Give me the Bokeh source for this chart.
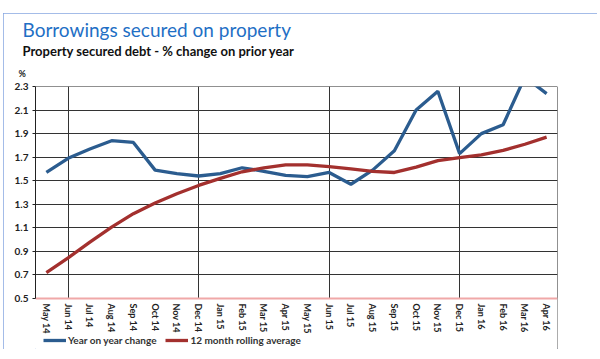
from bokeh.plotting import figure
from bokeh.models import (Range1d, FixedTicker, Title, Legend, LegendItem, ColumnDataSource,
                          BoxAnnotation, Span)
from bokeh.embed import file_html
from bokeh.resources import INLINE

months = ["May 14", "Jun 14", "Jul 14", "Aug 14", "Sep 14", "Oct 14", "Nov 14", "Dec 14",
          "Jan 15", "Feb 15", "Mar 15", "Apr 15", "May 15", "Jun 15", "Jul 15", "Aug 15",
          "Sep 15", "Oct 15", "Nov 15", "Dec 15", "Jan 16", "Feb 16", "Mar 16", "Apr 16"]
yoy_change = [1.57, 1.69, 1.77, 1.84, 1.825, 1.59, 1.56, 1.54, 1.56, 1.61, 1.58, 1.545,
              1.535, 1.57, 1.47, 1.59, 1.755, 2.10, 2.26, 1.73, 1.90, 1.975, 2.38, 2.24]
rolling_avg = [0.72, 0.845, 0.978, 1.106, 1.22, 1.31, 1.39, 1.46, 1.52, 1.576, 1.61, 1.635,
               1.635, 1.62, 1.60, 1.58, 1.57, 1.615, 1.67, 1.697, 1.72, 1.757, 1.81, 1.87]
y_ticks = [0.5, 0.7, 0.9, 1.1, 1.3, 1.5, 1.7, 1.9, 2.1, 2.3]
grid_months = ["Jun 14", "Dec 14", "Jun 15", "Dec 15"]

xs = list(range(len(months)))
src = ColumnDataSource(dict(x=xs, yoy=yoy_change, avg=rolling_avg))

FONT = "Lato"
Y_MIN, Y_MAX = y_ticks[0], y_ticks[-1]
FRAME_H = 263          # frame reaches down to the legend row
PLOT_H = 212           # height of the 0.5..2.3 band
y_lo = Y_MAX - (Y_MAX - Y_MIN) * FRAME_H / PLOT_H
X_LO, X_HI = -0.5, len(months) - 0.5

p = figure(output_backend="svg", toolbar_location=None,
           x_range=Range1d(X_LO, X_HI), y_range=Range1d(y_lo, Y_MAX),
           frame_width=522, frame_height=FRAME_H,
           min_border_left=32, min_border_right=40, min_border_top=73, min_border_bottom=0,
           background_fill_color="white", border_fill_color="white")
p.styles = {"margin-left": "3px", "margin-top": "13px",
            "outline": "1px solid #86a6e0", "outline-offset": "-1px"}
p.outline_line_color = None

# grid
p.ygrid.ticker = FixedTicker(ticks=y_ticks[1:])
p.ygrid.grid_line_color = "#333333"
p.ygrid.grid_line_width = 1
p.xgrid.ticker = FixedTicker(ticks=[months.index(m) for m in grid_months])
p.xgrid.grid_line_color = "#333333"
p.xgrid.grid_line_width = 1

# plot-area borders (top and right)
p.add_layout(Span(location=Y_MAX, dimension="width", line_color="#222222", line_width=1,
                  level="underlay"))
p.add_layout(Span(location=X_HI, dimension="height", line_color="#222222", line_width=1,
                  level="underlay"))
# blank the band below the 0.5 baseline (tick labels + legend row)
p.add_layout(BoxAnnotation(left=X_LO, right=X_HI, bottom=y_lo, top=Y_MIN,
                           fill_color="white", fill_alpha=1, line_color=None,
                           level="underlay"))

# y axis
p.yaxis.ticker = FixedTicker(ticks=y_ticks)
p.yaxis.bounds = (Y_MIN, Y_MAX)
p.yaxis.major_label_overrides = {t: f"{t:.1f}" for t in y_ticks}
p.yaxis.axis_line_color = "#222222"
p.yaxis.major_tick_line_color = "#222222"
p.yaxis.major_tick_out = 3
p.yaxis.major_tick_in = 0
p.yaxis.minor_tick_line_color = None
p.yaxis.major_label_standoff = 4
p.yaxis.major_label_text_font = FONT
p.yaxis.major_label_text_font_style = "bold"
p.yaxis.major_label_text_font_size = "10px"
p.yaxis.major_label_text_color = "#222222"

# x axis drawn at the 0.5 baseline
p.xaxis.fixed_location = Y_MIN
p.xaxis.ticker = FixedTicker(ticks=xs)
p.xaxis.major_label_overrides = {i: m for i, m in enumerate(months)}
p.xaxis.major_label_orientation = "vertical"
p.xaxis.axis_line_color = "#f0a8a8"
p.xaxis.axis_line_width = 2
p.xaxis.major_tick_line_color = None
p.xaxis.minor_tick_line_color = None
p.xaxis.major_tick_out = 0
p.xaxis.major_tick_in = 0
p.xaxis.major_label_standoff = 5
p.xaxis.major_label_text_font = FONT
p.xaxis.major_label_text_font_style = "bold"
p.xaxis.major_label_text_font_size = "9px"
p.xaxis.major_label_text_color = "#222222"

r1 = p.line("x", "yoy", source=src, line_color="#2b5c8f", line_width=3.3)
r2 = p.line("x", "avg", source=src, line_color="#a3302e", line_width=3.3)

legend = Legend(items=[LegendItem(label="Year on year change", renderers=[r1]),
                       LegendItem(label="12 month rolling average", renderers=[r2])],
                orientation="horizontal", location=(8, 3),
                padding=0, margin=0, spacing=9, label_standoff=2,
                glyph_width=23, glyph_height=10, label_height=12,
                label_text_font=FONT, label_text_font_size="10px",
                label_text_font_style="bold", label_text_color="#333333",
                background_fill_alpha=0, border_line_color=None)
p.add_layout(legend, "center")

# titles: first added is nearest the frame
p.add_layout(Title(text="%", align="left", offset=-17, standoff=15,
                   text_font=FONT, text_font_size="9px", text_font_style="bold",
                   text_color="#222222"), "above")
p.add_layout(Title(text="Property secured debt - % change on prior year", align="left",
                   offset=-13, standoff=0, text_font=FONT, text_font_size="13px",
                   text_font_style="bold", text_color="#111111"), "above")
p.add_layout(Title(text="Borrowings secured on property", align="left", offset=-13,
                   standoff=0, text_font=FONT, text_font_size="19px",
                   text_font_style="normal", text_color="#1f6fc5"), "above")

open("out.html", "w").write(file_html(p, INLINE))
